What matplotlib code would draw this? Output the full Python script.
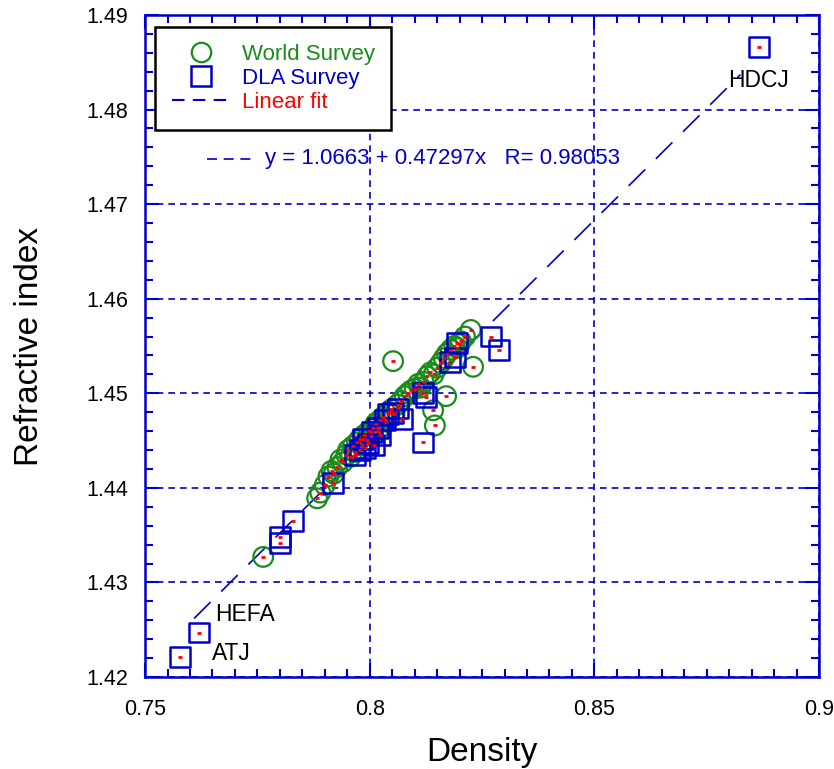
import matplotlib.pyplot as plt
from matplotlib.lines import Line2D
from matplotlib.ticker import MultipleLocator
import numpy as np

plt.rcParams['font.family'] = ['Liberation Sans', 'DejaVu Sans']

# World survey samples (density, refractive index)
world_x = [0.7763, 0.7883, 0.7890, 0.7900, 0.7908, 0.7915, 0.7920, 0.7928, 0.7935, 0.7940,
           0.7948, 0.7952, 0.7958, 0.7962, 0.7968, 0.7972, 0.7978, 0.7983, 0.7988, 0.7993,
           0.7998, 0.8003, 0.8008, 0.8013, 0.8018, 0.8023, 0.8030, 0.8036, 0.8042, 0.8048,
           0.8055, 0.8062, 0.8070, 0.8078, 0.8085, 0.8092, 0.8100, 0.8108, 0.8113, 0.8120,
           0.8128, 0.8135, 0.8142, 0.8150, 0.8158, 0.8165, 0.8172, 0.8180, 0.8188, 0.8195,
           0.8203, 0.8212, 0.8225, 0.8052, 0.8230, 0.8170, 0.8141, 0.8145, 0.8200]
world_y = [1.4327, 1.4389, 1.4395, 1.4403, 1.4412, 1.4418, 1.4415, 1.4422, 1.4430, 1.4427,
           1.4435, 1.4440, 1.4433, 1.4444, 1.4438, 1.4448, 1.4452, 1.4445, 1.4456, 1.4451,
           1.4460, 1.4455, 1.4463, 1.4468, 1.4460, 1.4472, 1.4475, 1.4470, 1.4480, 1.4483,
           1.4478, 1.4488, 1.4492, 1.4497, 1.4500, 1.4503, 1.4505, 1.4510, 1.4506, 1.4512,
           1.4518, 1.4522, 1.4520, 1.4527, 1.4532, 1.4537, 1.4542, 1.4546, 1.4550, 1.4548,
           1.4555, 1.4560, 1.4567, 1.4534, 1.4528, 1.4497, 1.4482, 1.4466, 1.4552]

# DLA survey samples
dla_x = [0.7578, 0.7620, 0.7800, 0.7800, 0.7829, 0.7918, 0.7967, 0.7978, 0.7989, 0.7996,
         0.8005, 0.8018, 0.8023, 0.8034, 0.8041, 0.8052, 0.8063, 0.8072, 0.8119, 0.8125,
         0.8119, 0.8179, 0.8190, 0.8194, 0.8270, 0.8288, 0.8866, 0.7985, 0.8010]
dla_y = [1.4221, 1.4247, 1.4348, 1.4342, 1.4365, 1.4405, 1.4435, 1.4440, 1.4442, 1.4447,
         1.4459, 1.4463, 1.4456, 1.4472, 1.4478, 1.4479, 1.4484, 1.4473, 1.4500, 1.4496,
         1.4448, 1.4533, 1.4538, 1.4553, 1.4560, 1.4546, 1.4866, 1.4452, 1.4445]

# fit: y = a + b*x
fit_a = 1.0663
fit_b = 0.47297
fit_r = 0.98053
fit_range = [0.7609, 0.8825]

fuel_labels = ['HEFA', 'ATJ', 'HDCJ']
fuel_label_pos = [(0.7656, 1.4266), (0.7649, 1.4225), (0.8797, 1.4831)]

blue = '#0000CC'
green = '#1A8C1A'

fig = plt.figure(figsize=(8.34, 7.69), dpi=100)
ax = fig.add_axes([0.1739, 0.1196, 0.8082, 0.8609])

ax.scatter(world_x, world_y, s=200, facecolors='none', edgecolors=green, linewidths=1.6, zorder=3)
ax.scatter(dla_x, dla_y, marker='s', s=200, facecolors='none', edgecolors=blue, linewidths=1.8, zorder=4)
ax.scatter(world_x + dla_x, world_y + dla_y, marker='_', s=12, color='red', linewidths=2, zorder=5)

fx = np.array(fit_range)
ax.plot(fx, fit_a + fit_b * fx, color=blue, lw=1.2, dashes=(14, 9), zorder=2)

for lab, (lx, ly) in zip(fuel_labels, fuel_label_pos):
    ax.text(lx, ly, lab, fontsize=16.5, color='black', va='center', ha='left', zorder=6)

ax.set_xlim(0.75, 0.9)
ax.set_ylim(1.42, 1.49)
ax.xaxis.set_minor_locator(MultipleLocator(0.005))
ax.yaxis.set_minor_locator(MultipleLocator(0.002))
ax.set_xticks([0.75, 0.8, 0.85, 0.9])
ax.set_xticklabels(['0.75', '0.8', '0.85', '0.9'])
ax.set_yticks([1.42, 1.43, 1.44, 1.45, 1.46, 1.47, 1.48, 1.49])
ax.set_yticklabels(['1.42', '1.43', '1.44', '1.45', '1.46', '1.47', '1.48', '1.49'])

ax.tick_params(which='both', direction='in', top=True, right=True, color=blue, width=1.5,
               labelsize=15.5)
ax.tick_params(which='major', length=10)
ax.tick_params(which='minor', length=6)
ax.tick_params(axis='x', which='major', pad=16)
ax.tick_params(axis='y', which='major', pad=12)
for sp in ax.spines.values():
    sp.set_color(blue)
    sp.set_linewidth(1.8)

ax.grid(True, which='major', color=blue, ls=(0, (4, 3)), lw=1.2, zorder=1)
ax.set_axisbelow(False)

ax.set_xlabel('Density', fontsize=24, labelpad=12)
ax.set_ylabel('Refractive index', fontsize=24, labelpad=30)

handles = [
    Line2D([], [], ls='none', marker='o', ms=14, mfc='none', mec=green, mew=1.6),
    Line2D([], [], ls='none', marker='s', ms=14, mfc='none', mec=blue, mew=1.8),
    Line2D([], [], color=blue, lw=1.5, dashes=(6, 4)),
]
leg = ax.legend(handles, ['World Survey', 'DLA Survey', 'Linear fit'], loc='upper left',
                bbox_to_anchor=(0.0148, 0.982), borderaxespad=0, fontsize=16,
                fancybox=False, framealpha=1, edgecolor='black',
                labelcolor=[green, blue, 'red'], handlelength=2.6,
                borderpad=0.75, labelspacing=0.15, handletextpad=0.55)
leg.get_frame().set_linewidth(1.8)
leg.set_zorder(10)

# equation annotation with its own line sample
eq_y = 1.4748
ax.plot([0.7638, 0.7745], [eq_y, eq_y], color=blue, lw=1.2, dashes=(6, 4), zorder=6)
ax.text(0.7767, eq_y, 'y = %.4f + %.5fx   R= %.5f' % (fit_a, fit_b, fit_r),
        fontsize=16, color=blue, va='center', ha='left', zorder=6)

fig.savefig('out.png', dpi=100)
